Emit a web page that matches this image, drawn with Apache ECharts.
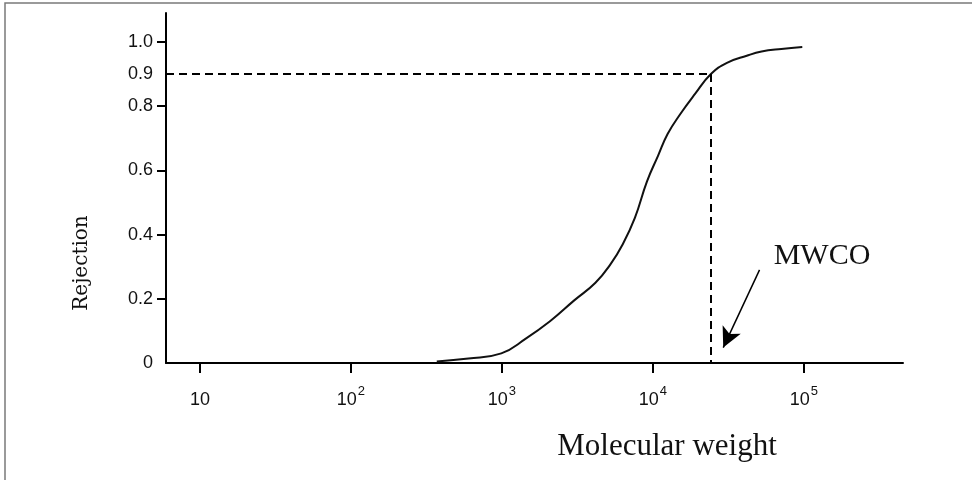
<!DOCTYPE html>
<html>
<head>
<meta charset="utf-8">
<script src="https://cdn.jsdelivr.net/npm/echarts@6/dist/echarts.min.js"></script>
<style>html,body{margin:0;padding:0;background:#fff}#c{width:972px;height:480px}</style>
</head>
<body>
<div id="c"></div>
<script>
// ---- data ----
const molecularWeight = [370, 600, 990, 1430, 2080, 3010, 4160, 5240, 6310, 7590, 9120, 10800, 12500, 15100, 19000, 24200, 30900, 41800, 52400, 70800, 97500];
const rejection      = [0.005, 0.014, 0.030, 0.075, 0.130, 0.195, 0.250, 0.308, 0.370, 0.452, 0.565, 0.645, 0.713, 0.774, 0.838, 0.900, 0.935, 0.957, 0.970, 0.978, 0.984];
const mwco = 24200;          // molecular weight cut-off
const cutoffRejection = 0.9; // rejection at MWCO
const xTickExponents = [1, 2, 3, 4, 5];           // 10, 10^2 ... 10^5
const yTickValues = [0.2, 0.4, 0.6, 0.8, 1.0];
const yLabelValues = [0, 0.2, 0.4, 0.6, 0.8, 0.9, 1.0];
const annotationText = 'MWCO';
const arrowFrom = [50800, 0.29];
const arrowTo = [29200, 0.048];
const textAt = [63000, 0.334];

// ---- chart ----
const lg = v => Math.log10(v);
const xMin = 0.775, xMax = 5.656;
const chart = echarts.init(document.getElementById('c'));
const curve = molecularWeight.map((m, i) => [lg(m), rejection[i]]);

chart.setOption({
  animation: false,
  backgroundColor: '#fff',
  grid: { left: 166, right: 69, top: 13, bottom: 117 },
  xAxis: {
    type: 'value', min: xMin, max: xMax,
    axisLine: { lineStyle: { color: '#000', width: 2 } },
    axisTick: { customValues: xTickExponents, length: 10, lineStyle: { color: '#000', width: 2 } },
    splitLine: { show: false },
    axisLabel: {
      customValues: xTickExponents, margin: 22, color: '#111',
      formatter: v => v === 1 ? '{b|10}' : '{b|10}{sup|' + v + '}',
      rich: {
        b: { fontSize: 18, fontFamily: 'Liberation Sans', color: '#111', lineHeight: 24, verticalAlign: 'bottom' },
        sup: { fontSize: 13, fontFamily: 'Liberation Sans', color: '#111', lineHeight: 13, verticalAlign: 'top', padding: [0, 0, 0, 1] }
      }
    }
  },
  yAxis: {
    type: 'value', min: 0, max: 1.09,
    axisLine: { show: true, lineStyle: { color: '#000', width: 2 } },
    axisTick: { show: true, customValues: yTickValues, length: 9, lineStyle: { color: '#000', width: 2 } },
    splitLine: { show: false },
    axisLabel: {
      customValues: yLabelValues, margin: 13, color: '#111',
      fontFamily: 'Liberation Sans', fontSize: 18,
      formatter: v => v === 0 ? '0' : v.toFixed(1)
    }
  },
  graphic: [
    { type: 'polyline', shape: { points: [[5, 480], [5, 3], [972, 3]] }, style: { stroke: '#7a7a7a', lineWidth: 1.5, fill: null } },
    { type: 'text', x: 82, y: 263, rotation: Math.PI / 2, style: { text: 'Rejection', font: '20px "DejaVu Serif"', fill: '#111', align: 'center', verticalAlign: 'middle' } },
    { type: 'text', x: 667, y: 447, style: { text: 'Molecular weight', font: '31px "Liberation Serif"', fill: '#111', align: 'center', verticalAlign: 'middle' } }
  ],
  series: [
    {
      type: 'line', data: curve, smooth: 0.45, symbol: 'none',
      lineStyle: { color: '#111', width: 2 },
      markLine: {
        silent: true, symbol: 'none', label: { show: false },
        lineStyle: { color: '#000', width: 2, type: [8, 5] },
        data: [
          [{ coord: [xMin, cutoffRejection] }, { coord: [lg(mwco), cutoffRejection] }],
          [{ coord: [lg(mwco), cutoffRejection] }, { coord: [lg(mwco), 0] }]
        ]
      }
    },
    {
      type: 'line', data: [], symbol: 'none',
      markLine: {
        silent: true, symbol: ['none', 'arrow'], symbolSize: [15, 20], label: { show: false },
        lineStyle: { color: '#000', width: 1.5, type: 'solid' },
        data: [[{ coord: [lg(arrowFrom[0]), arrowFrom[1]] }, { coord: [lg(arrowTo[0]), arrowTo[1]] }]]
      },
      markPoint: {
        silent: true, symbol: 'circle', symbolSize: 0,
        label: { show: true, position: 'right', distance: 0, formatter: annotationText, color: '#111', fontFamily: 'Liberation Serif', fontSize: 30 },
        data: [{ coord: [lg(textAt[0]), textAt[1]] }]
      }
    }
  ]
});
</script>
</body>
</html>
